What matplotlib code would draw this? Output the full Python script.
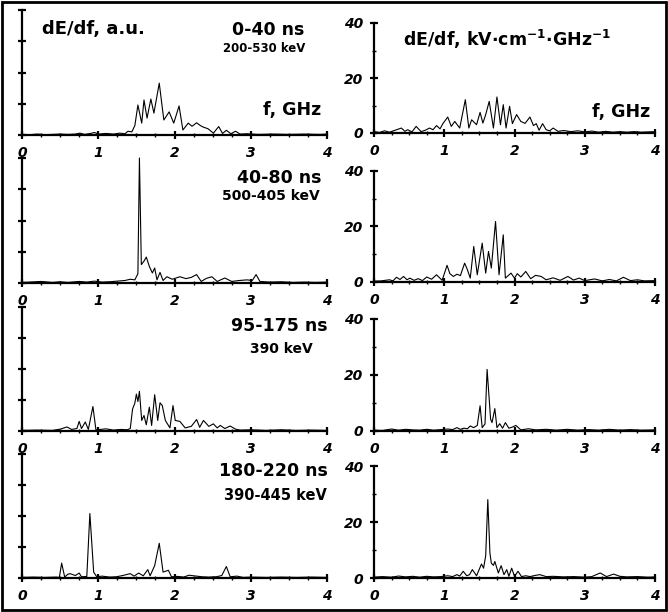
import matplotlib.pyplot as plt
from matplotlib.patches import Rectangle

plt.rcParams["font.family"] = ["DejaVu Sans"]
plt.rcParams["font.weight"] = "bold"
plt.rcParams["mathtext.default"] = "bf"

W, H = 668, 612

x_ticks = [0, 1, 2, 3, 4]
x_tick_labels = ["0", "1", "2", "3", "4"]
x_minor = [0.25 * i for i in range(17)]
au_ticks = [0, 1, 2, 3, 4]
kv_ticks = [0, 20, 40]
kv_tick_labels = ["0", "20", "40"]
kv_minor = [10, 30]

titles = ["0-40 ns", "40-80 ns", "95-175 ns", "180-220 ns"]
energies = ["200-530 keV", "500-405 keV", "390 keV", "390-445 keV"]

# spectra in arbitrary units (left column)
f_au_1 = [0, 0.1, 0.2, 0.3, 0.4, 0.5, 0.6, 0.7, 0.76, 0.82,
          0.9, 0.95, 1.0, 1.1, 1.2, 1.28, 1.35, 1.39, 1.44, 1.48,
          1.52, 1.57, 1.60, 1.64, 1.69, 1.73, 1.80, 1.86, 1.93, 1.99,
          2.06, 2.11, 2.18, 2.23, 2.29, 2.34, 2.38, 2.44, 2.51, 2.58,
          2.63, 2.68, 2.74, 2.8, 2.86, 2.95, 3.1, 3.3, 3.5, 3.7,
          3.9, 4.0]
au_1 = [0.02, 0.01, 0.03, 0.01, 0.02, 0.03, 0.02, 0.03, 0.06, 0.02,
        0.05, 0.08, 0.03, 0.05, 0.03, 0.06, 0.04, 0.12, 0.1, 0.3,
        0.96, 0.38, 1.12, 0.54, 1.15, 0.7, 1.66, 0.48, 0.74, 0.38,
        0.93, 0.16, 0.38, 0.28, 0.39, 0.3, 0.25, 0.2, 0.06, 0.27,
        0.05, 0.15, 0.04, 0.12, 0.03, 0.04, 0.02, 0.03, 0.02, 0.03,
        0.02, 0.03]

f_au_2 = [0, 0.1, 0.25, 0.4, 0.5, 0.6, 0.75, 0.85, 0.95, 1.05,
          1.15, 1.25, 1.35, 1.42, 1.48, 1.52, 1.54, 1.565, 1.60, 1.63,
          1.67, 1.71, 1.74, 1.77, 1.81, 1.85, 1.90, 1.97, 2.07, 2.15,
          2.22, 2.29, 2.35, 2.42, 2.49, 2.56, 2.66, 2.75, 2.85, 2.95,
          3.02, 3.07, 3.12, 3.25, 3.4, 3.55, 3.7, 3.85, 4.0]
au_2 = [0.02, 0.03, 0.05, 0.02, 0.04, 0.02, 0.05, 0.03, 0.06, 0.03,
        0.04, 0.06, 0.08, 0.12, 0.1, 0.3, 4.0, 0.59, 0.7, 0.83,
        0.53, 0.32, 0.48, 0.1, 0.34, 0.08, 0.2, 0.12, 0.2, 0.14,
        0.18, 0.27, 0.05, 0.15, 0.2, 0.05, 0.16, 0.05, 0.08, 0.1,
        0.08, 0.27, 0.05, 0.03, 0.04, 0.02, 0.03, 0.02, 0.03]

f_au_3 = [0, 0.2, 0.4, 0.5, 0.59, 0.65, 0.72, 0.75, 0.78, 0.83,
          0.87, 0.93, 0.97, 1.03, 1.1, 1.2, 1.3, 1.38, 1.42, 1.45,
          1.48, 1.50, 1.52, 1.54, 1.57, 1.60, 1.63, 1.67, 1.70, 1.74,
          1.78, 1.81, 1.84, 1.88, 1.94, 1.98, 2.01, 2.07, 2.14, 2.22,
          2.29, 2.33, 2.38, 2.45, 2.51, 2.56, 2.6, 2.66, 2.73, 2.8,
          2.86, 3.0, 3.2, 3.4, 3.6, 3.8, 4.0]
au_3 = [0.02, 0.03, 0.02, 0.06, 0.13, 0.05, 0.08, 0.31, 0.08, 0.29,
        0.05, 0.79, 0.03, 0.05, 0.07, 0.03, 0.05, 0.04, 0.08, 0.71,
        0.9, 1.19, 0.95, 1.28, 0.34, 0.5, 0.2, 0.77, 0.18, 1.17,
        0.34, 0.91, 0.82, 0.34, 0.1, 0.82, 0.34, 0.31, 0.1, 0.15,
        0.37, 0.12, 0.34, 0.15, 0.23, 0.1, 0.18, 0.08, 0.16, 0.06,
        0.03, 0.04, 0.02, 0.04, 0.02, 0.03, 0.02]

f_au_4 = [0, 0.15, 0.3, 0.45, 0.49, 0.52, 0.56, 0.6, 0.63, 0.7,
          0.75, 0.78, 0.85, 0.89, 0.94, 0.98, 1.05, 1.15, 1.24, 1.32,
          1.42, 1.47, 1.53, 1.59, 1.65, 1.68, 1.74, 1.80, 1.85, 1.92,
          1.96, 2.05, 2.12, 2.19, 2.29, 2.36, 2.45, 2.55, 2.62, 2.68,
          2.73, 2.82, 2.9, 3.0, 3.2, 3.4, 3.6, 3.8, 4.0]
au_4 = [0.02, 0.03, 0.02, 0.03, 0.02, 0.48, 0.03, 0.12, 0.14, 0.08,
        0.16, 0.04, 0.05, 2.08, 0.19, 0.04, 0.06, 0.03, 0.04, 0.08,
        0.14, 0.06, 0.16, 0.07, 0.27, 0.07, 0.4, 1.12, 0.19, 0.25,
        0.04, 0.05, 0.03, 0.09, 0.06, 0.04, 0.03, 0.04, 0.08, 0.37,
        0.04, 0.06, 0.02, 0.03, 0.02, 0.03, 0.02, 0.03, 0.02]

# spectra in kV/cm/GHz (right column)
f_kv_1 = [0, 0.08, 0.15, 0.22, 0.3, 0.39, 0.44, 0.48, 0.54, 0.6,
          0.67, 0.73, 0.79, 0.84, 0.89, 0.94, 0.98, 1.05, 1.1, 1.15,
          1.22, 1.30, 1.35, 1.39, 1.46, 1.51, 1.55, 1.59, 1.64, 1.70,
          1.75, 1.80, 1.84, 1.88, 1.93, 1.97, 2.03, 2.09, 2.15, 2.22,
          2.27, 2.31, 2.35, 2.40, 2.45, 2.5, 2.55, 2.62, 2.7, 2.8,
          2.9, 3.0, 3.1, 3.2, 3.3, 3.4, 3.5, 3.6, 3.7, 3.8,
          3.9, 4.0]
kv_1 = [0.5, 0.2, 0.8, 0.3, 1.0, 1.8, 0.6, 1.2, 0.4, 2.4,
        0.5, 1.0, 1.8, 1.2, 2.7, 1.5, 3.4, 5.8, 2.4, 4.2,
        1.8, 12.1, 1.8, 4.8, 3.0, 7.5, 3.6, 6.7, 11.5, 1.8,
        13.1, 3.0, 10.3, 1.8, 9.7, 3.4, 6.7, 4.2, 3.5, 5.8,
        2.7, 3.4, 1.0, 3.4, 1.2, 0.8, 1.8, 0.6, 0.9, 0.5,
        0.8, 0.4, 0.7, 0.3, 0.6, 0.3, 0.5, 0.3, 0.5, 0.3,
        0.4, 0.5]

f_kv_2 = [0, 0.1, 0.22, 0.27, 0.32, 0.37, 0.42, 0.47, 0.51, 0.57,
          0.63, 0.69, 0.75, 0.82, 0.89, 0.97, 1.04, 1.08, 1.13, 1.18,
          1.23, 1.29, 1.33, 1.37, 1.42, 1.47, 1.54, 1.59, 1.63, 1.67,
          1.73, 1.78, 1.84, 1.87, 1.95, 2.0, 2.04, 2.09, 2.16, 2.23,
          2.3, 2.38, 2.45, 2.55, 2.65, 2.76, 2.84, 2.92, 3.0, 3.14,
          3.25, 3.35, 3.45, 3.55, 3.65, 3.75, 3.85, 4.0]
kv_2 = [0.3, 0.4, 0.8, 0.4, 1.7, 0.9, 2.0, 0.8, 1.4, 0.6,
        1.2, 0.5, 1.8, 1.0, 2.6, 0.6, 6.0, 3.0, 2.0, 2.8,
        2.3, 6.8, 4.4, 1.4, 12.8, 2.6, 14.0, 3.2, 11.0, 5.0,
        21.8, 2.6, 17.0, 1.4, 3.2, 1.4, 3.0, 1.8, 3.8, 1.2,
        2.4, 2.0, 0.8, 1.5, 0.6, 2.0, 0.7, 1.4, 0.5, 1.1,
        0.4, 0.9, 0.4, 1.7, 0.5, 0.8, 0.4, 0.5]

f_kv_3 = [0, 0.12, 0.25, 0.35, 0.45, 0.55, 0.65, 0.75, 0.85, 0.95,
          1.05, 1.12, 1.18, 1.23, 1.28, 1.33, 1.37, 1.42, 1.47, 1.51,
          1.54, 1.58, 1.61, 1.66, 1.68, 1.72, 1.75, 1.79, 1.83, 1.87,
          1.92, 1.97, 2.02, 2.09, 2.2, 2.3, 2.45, 2.6, 2.75, 2.9,
          3.05, 3.2, 3.35, 3.5, 3.65, 3.8, 4.0]
kv_3 = [0.3, 0.2, 0.7, 0.3, 0.6, 0.4, 0.3, 0.6, 0.3, 0.5,
        0.7, 0.5, 1.2, 0.6, 1.0, 0.8, 1.8, 1.2, 2.0, 9.0,
        1.2, 2.5, 22.0, 4.2, 3.0, 8.0, 1.2, 2.6, 1.0, 3.0,
        1.0, 1.4, 2.0, 0.4, 0.8, 0.4, 0.6, 0.3, 0.6, 0.3,
        0.5, 0.3, 0.6, 0.3, 0.5, 0.3, 0.4]

f_kv_4 = [0, 0.12, 0.25, 0.35, 0.45, 0.55, 0.65, 0.75, 0.85, 0.95,
          1.05, 1.12, 1.18, 1.22, 1.27, 1.32, 1.36, 1.40, 1.46, 1.53,
          1.56, 1.59, 1.62, 1.65, 1.67, 1.70, 1.72, 1.77, 1.81, 1.85,
          1.89, 1.92, 1.96, 2.0, 2.05, 2.10, 2.16, 2.22, 2.29, 2.36,
          2.45, 2.55, 2.7, 2.85, 3.0, 3.1, 3.22, 3.31, 3.41, 3.5,
          3.6, 3.75, 3.9, 4.0]
kv_4 = [0.3, 0.5, 0.3, 0.7, 0.4, 0.6, 0.3, 0.6, 0.4, 0.5,
        0.8, 0.5, 1.2, 0.7, 2.4, 0.8, 1.2, 3.0, 0.8, 5.0,
        3.5, 8.0, 28.0, 9.0, 5.3, 4.5, 5.9, 1.8, 4.4, 1.2,
        3.0, 0.6, 3.5, 0.6, 2.4, 0.5, 0.8, 0.5, 0.9, 1.2,
        0.5, 0.6, 0.4, 0.5, 0.3, 0.5, 1.8, 0.5, 1.4, 0.6,
        0.4, 0.5, 0.3, 0.4]

left_series = [(f_au_1, au_1), (f_au_2, au_2), (f_au_3, au_3), (f_au_4, au_4)]
right_series = [(f_kv_1, kv_1), (f_kv_2, kv_2), (f_kv_3, kv_3), (f_kv_4, kv_4)]

# panel frames in pixels: (top, bottom) of each row
left_rows = [(10, 135), (158, 283), (307, 431), (454, 578)]
right_rows = [(23, 133), (171, 282), (319, 431), (466, 578)]
title_pos = [(268, 30), (279, 178), (279, 326), (273, 471)]
energy_pos = [(264, 49), (271, 196), (281, 349), (275, 496)]
energy_size = [8.5, 10, 10, 10.5]

fig = plt.figure(figsize=(W / 100, H / 100), dpi=100)


def rect(x0, x1, top, bottom):
    return [x0 / W, 1 - bottom / H, (x1 - x0) / W, (bottom - top) / H]


def put(x, y, s, size, **kw):
    fig.text(x / W, 1 - y / H, s, fontsize=size, fontweight="bold",
             va="center", **kw)


def style(ax):
    for side in ("top", "right"):
        ax.spines[side].set_visible(False)
    for side in ("left", "bottom"):
        ax.spines[side].set_linewidth(1.6)
    ax.set_xlim(0, 4)
    ax.set_xticks(x_ticks)
    ax.set_xticks(x_minor, minor=True)
    ax.set_xticklabels(x_tick_labels, fontsize=10, fontstyle="italic",
                       fontweight="bold")
    ax.tick_params(which="major", direction="inout", length=6, width=1.6, pad=5)
    ax.tick_params(which="minor", direction="inout", length=3, width=1.0)
    ax.patch.set_alpha(0)


for i in range(4):
    top, bottom = left_rows[i]
    ax = fig.add_axes(rect(22, 327, top, bottom))
    f, v = left_series[i]
    ax.plot(f, v, color="black", lw=0.8, clip_on=False)
    style(ax)
    ax.set_ylim(0, 4)
    ax.set_yticks(au_ticks)
    ax.set_yticklabels([])

    top, bottom = right_rows[i]
    ax = fig.add_axes(rect(374, 655, top, bottom))
    f, v = right_series[i]
    ax.plot(f, v, color="black", lw=0.8, clip_on=False)
    style(ax)
    ax.set_ylim(0, 40)
    ax.set_yticks(kv_ticks)
    ax.set_yticks(kv_minor, minor=True)
    ax.set_yticklabels(kv_tick_labels, fontsize=10, fontstyle="italic",
                       fontweight="bold")

    put(*title_pos[i], titles[i], 12.5, ha="center")
    put(*energy_pos[i], energies[i], energy_size[i], ha="center")

put(93, 29, "dE/df, a.u.", 13, ha="center")
put(292, 110, "f, GHz", 12.5, ha="center")
put(403, 39, r"dE/df, kV$\cdot$cm$^{-1}$$\cdot$GHz$^{-1}$", 12.5, ha="left")
put(621, 112, "f, GHz", 12.5, ha="center")

fig.patches.append(Rectangle((0.003, 0.003), 0.994, 0.994, transform=fig.transFigure,
                             fill=False, lw=2, edgecolor="black"))

fig.savefig("out.png", dpi=100)
